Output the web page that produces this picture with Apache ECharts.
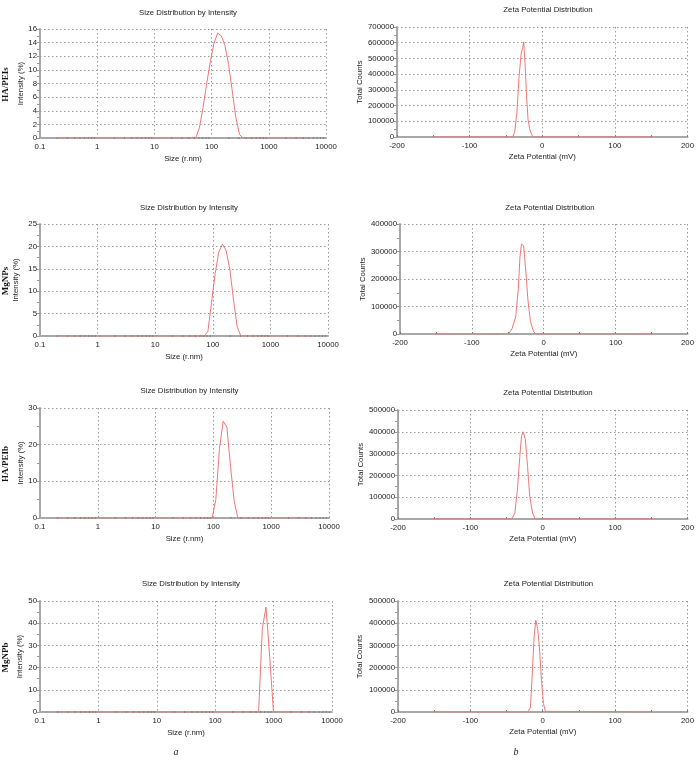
<!DOCTYPE html>
<html>
<head>
<meta charset="utf-8">
<script src="https://cdn.jsdelivr.net/npm/echarts@6/dist/echarts.min.js"></script>
<style>
  html, body { margin: 0; padding: 0; background: #fff; }
  #chart { width: 697px; height: 761px; }
</style>
</head>
<body>
<div id="chart"></div>
<script>
// sample names (row labels)
var sampleNames = ['HA/PEIs', 'MgNPs', 'HA/PEIb', 'MgNPb'];

// size distribution by intensity: [radius nm, intensity %]
var sizeHAPEIs = [[0.2,0],[45.64,0],[52.85,0],[61.2,1.5],[70.9,4.5],[82.1,8.0],[95.05,11.2],[110.1,13.9],[127.5,15.4],[147.6,15.0],[171.0,13.6],[198.0,10.8],[229.3,7.0],[265.5,3.0],[307.5,0.5],[356.1,0],[5000,0]];
var sizeMgNPs = [[0.2,0],[70.9,0],[82.1,1.0],[95.05,7.5],[110.1,14.0],[127.5,18.8],[147.6,20.5],[171.0,19.0],[198.0,14.8],[229.3,8.0],[265.5,2.0],[307.5,0],[5000,0]];
var sizeHAPEIb = [[0.2,0],[95.05,0],[110.1,5.0],[127.5,19.0],[147.6,26.4],[171.0,24.8],[198.0,14.0],[229.3,4.5],[265.5,0],[5000,0]];
var sizeMgNPb = [[0.2,0],[553.1,0],[640.5,37.6],[741.7,47.3],[858.9,24.5],[994.6,0],[5000,0]];

// zeta potential distribution: [mV, total counts]
var zetaHAPEIs = [[-150,0],[-41,0],[-38,30000],[-35,150000],[-32,380000],[-29,530000],[-27,570000],[-25.5,605000],[-23.5,450000],[-21.5,250000],[-19.5,110000],[-17,45000],[-14,10000],[-11,0],[150,0]];
var zetaMgNPs = [[-150,0],[-49,0],[-44,20000],[-39,63000],[-35.5,160000],[-33,282000],[-31,327000],[-28,321000],[-25.5,246000],[-22,124000],[-18.5,45000],[-14,8000],[-10.5,0],[150,0]];
var zetaHAPEIb = [[-150,0],[-43,0],[-38.5,27000],[-35,134000],[-31.7,287000],[-29.4,378000],[-27,400000],[-24,363000],[-21,241000],[-18,104000],[-14,27000],[-10.5,0],[150,0]];
var zetaMgNPb = [[-150,0],[-20.5,0],[-17,22000],[-14.2,188000],[-12,338000],[-9.6,413000],[-7,375000],[-4.6,293000],[-1.8,143000],[1,38000],[3.7,3000],[5.5,0],[150,0]];

// axis scales
var sizeYMax = [16, 25, 30, 50];
var sizeYStep = [2, 5, 10, 10];
var zetaYMax = [700000, 400000, 500000, 500000];
var zetaYStep = [100000, 100000, 100000, 100000];

// minor log ticks drawn on the size baseline
var logMinorTicks = [0.2,0.3,0.4,0.5,0.6,0.7,0.8,0.9,2,3,4,5,6,7,8,9,20,30,40,50,60,70,80,90,200,300,400,500,600,700,800,900,2000,3000,4000,5000,6000,7000,8000,9000];

var sizeData = [sizeHAPEIs, sizeMgNPs, sizeHAPEIb, sizeMgNPb];
var zetaData = [zetaHAPEIs, zetaMgNPs, zetaHAPEIb, zetaMgNPb];

// layout of the 8 panels (px)
var sizeGrids = [
  {left: 40, top: 29, width: 286, height: 109},
  {left: 40, top: 224, width: 288, height: 112},
  {left: 40, top: 408, width: 289, height: 110},
  {left: 40, top: 601, width: 292, height: 111}
];
var zetaGrids = [
  {left: 397, top: 27, width: 292, height: 110},
  {left: 400, top: 224, width: 290, height: 110},
  {left: 398, top: 410, width: 290, height: 109},
  {left: 398, top: 601, width: 291, height: 111}
];
var sizeTitleTop = [4, 199, 382, 575];
var zetaTitleTop = [1, 199, 384, 575];
var sizeNameGap = [13, 20, 13, 16];
var zetaNameGap = [31, 31, 32, 34];

var font = '"Liberation Sans", Arial, sans-serif';
var txt = '#222';
var lineColor = '#f07777';
var fs = 7.8;

var chart = echarts.init(document.getElementById('chart'));

var grid = [], xAxis = [], yAxis = [], series = [], title = [], graphic = [];

var splitStyle = {show: true, lineStyle: {color: '#999', type: [1.5, 2.5], width: 1}};
var axisLineStyle = {show: true, onZero: false, lineStyle: {color: '#a8a8a8', width: 2}};
var plainNum = function (v) { return String(v); };

function addPanel(g, isSize, i) {
  var idx = grid.length;
  grid.push(g);
  if (isSize) {
    xAxis.push({
      type: 'log', logBase: 10, min: 0.1, max: 10000, gridIndex: idx,
      name: 'Size (r.nm)', nameLocation: 'middle', nameGap: 17,
      nameTextStyle: {fontFamily: font, fontSize: fs, color: txt},
      axisLine: axisLineStyle, axisTick: {show: false},
      axisLabel: {fontFamily: font, fontSize: fs, color: txt, margin: 5,
        formatter: function (v) { return v < 1 ? v.toFixed(1) : String(Math.round(v)); }},
      splitLine: splitStyle
    });
    yAxis.push({
      type: 'value', min: 0, max: sizeYMax[i], interval: sizeYStep[i], gridIndex: idx,
      name: 'Intensity (%)', nameLocation: 'middle', nameGap: sizeNameGap[i],
      nameTextStyle: {fontFamily: font, fontSize: fs, color: txt},
      axisLine: axisLineStyle,
      axisTick: {show: true, length: 3, lineStyle: {color: '#999'}},
      minorTick: {show: true, splitNumber: 2, length: 3, lineStyle: {color: '#999'}},
      axisLabel: {fontFamily: font, fontSize: fs, color: txt, margin: 3, formatter: plainNum},
      splitLine: splitStyle
    });
    title.push({text: 'Size Distribution by Intensity', left: g.left + g.width / 2, top: sizeTitleTop[i],
      textAlign: 'center', textStyle: {fontFamily: font, fontSize: fs, fontWeight: 'normal', color: txt}});
    series.push({type: 'line', xAxisIndex: idx, yAxisIndex: idx, data: sizeData[i], symbol: 'none',
      lineStyle: {color: lineColor, width: 1}, z: 3, silent: true});
    series.push({type: 'scatter', xAxisIndex: idx, yAxisIndex: idx, symbol: 'rect', symbolSize: [1, 2],
      data: logMinorTicks.map(function (v) { return [v, 0]; }),
      itemStyle: {color: '#777'}, z: 4, silent: true});
    graphic.push({type: 'text', rotation: Math.PI / 2, x: 6, y: g.top + g.height / 2 + 1,
      style: {text: sampleNames[i], font: 'bold 9px "Liberation Serif", "Times New Roman", serif',
        fill: '#111', align: 'center', verticalAlign: 'middle'}});
  } else {
    xAxis.push({
      type: 'value', min: -200, max: 200, interval: 100, gridIndex: idx,
      name: 'Zeta Potential (mV)', nameLocation: 'middle', nameGap: 16,
      nameTextStyle: {fontFamily: font, fontSize: fs, color: txt},
      axisLine: axisLineStyle,
      axisTick: {show: true, length: 2, inside: true, lineStyle: {color: '#777'}},
      minorTick: {show: true, splitNumber: 2, length: 2, lineStyle: {color: '#777'}},
      axisLabel: {fontFamily: font, fontSize: fs, color: txt, margin: 5, formatter: plainNum},
      splitLine: splitStyle
    });
    yAxis.push({
      type: 'value', min: 0, max: zetaYMax[i], interval: zetaYStep[i], gridIndex: idx,
      name: 'Total Counts', nameLocation: 'middle', nameGap: zetaNameGap[i],
      nameTextStyle: {fontFamily: font, fontSize: fs, color: txt},
      axisLine: axisLineStyle,
      axisTick: {show: true, length: 3, lineStyle: {color: '#999'}},
      minorTick: {show: true, splitNumber: 2, length: 3, lineStyle: {color: '#999'}},
      axisLabel: {fontFamily: font, fontSize: fs, color: txt, margin: 3, formatter: plainNum},
      splitLine: splitStyle
    });
    title.push({text: 'Zeta Potential Distribution', left: g.left + g.width / 2, top: zetaTitleTop[i],
      textAlign: 'center', textStyle: {fontFamily: font, fontSize: fs, fontWeight: 'normal', color: txt}});
    series.push({type: 'line', xAxisIndex: idx, yAxisIndex: idx, data: zetaData[i], symbol: 'none',
      lineStyle: {color: lineColor, width: 1}, z: 3, silent: true});
  }
}

for (var i = 0; i < 4; i++) {
  addPanel(sizeGrids[i], true, i);
  addPanel(zetaGrids[i], false, i);
}

// panel letters
graphic.push({type: 'text', x: 176, y: 752, style: {text: 'a', font: 'italic 10px "Liberation Serif", serif', fill: '#222', align: 'center', verticalAlign: 'middle'}});
graphic.push({type: 'text', x: 516, y: 752, style: {text: 'b', font: 'italic 10px "Liberation Serif", serif', fill: '#222', align: 'center', verticalAlign: 'middle'}});

chart.setOption({
  backgroundColor: '#fff',
  animation: false,
  title: title,
  grid: grid,
  xAxis: xAxis,
  yAxis: yAxis,
  series: series,
  graphic: graphic
});

window.addEventListener('resize', function () {
  chart.resize();
});
</script>
</body>
</html>
